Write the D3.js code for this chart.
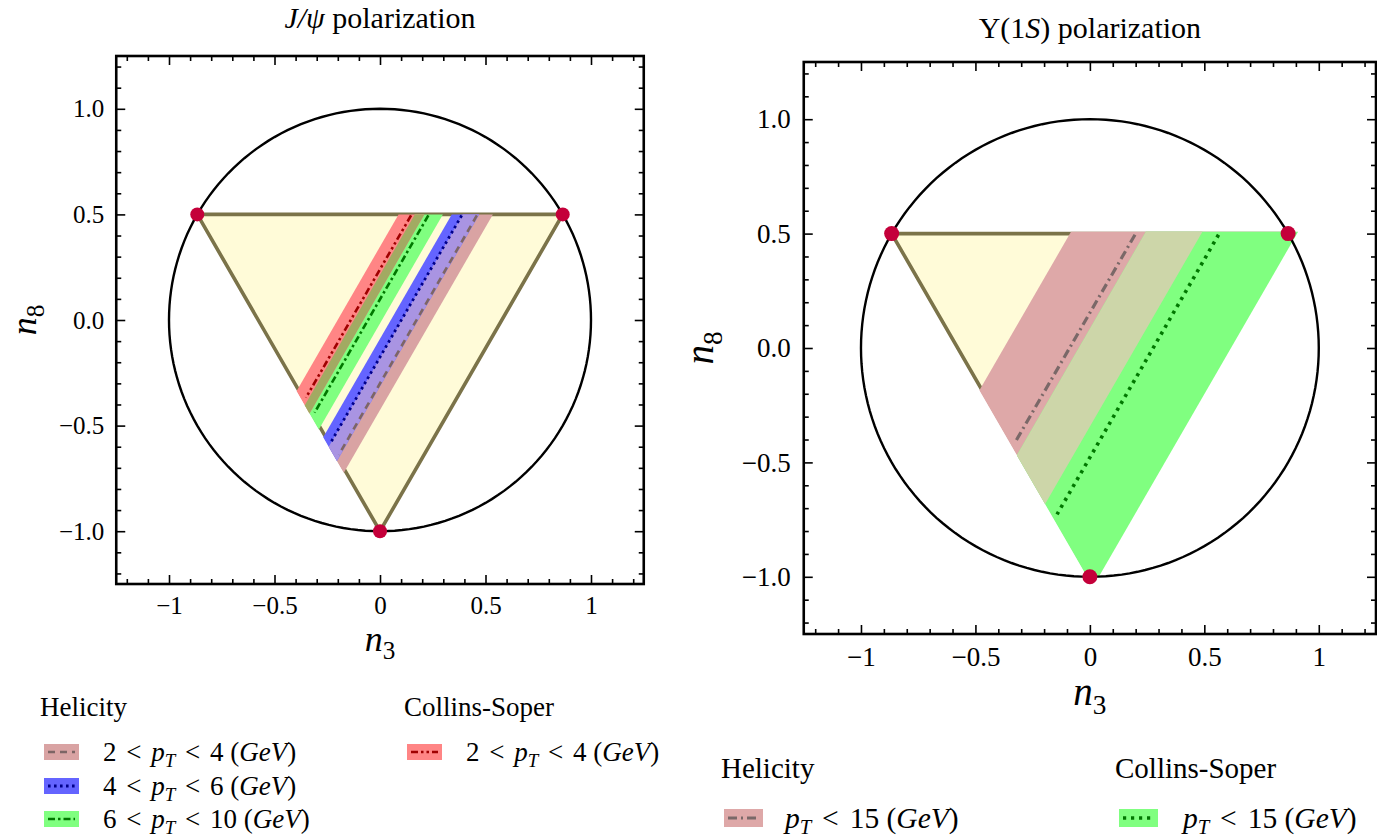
<!DOCTYPE html>
<html><head><meta charset="utf-8">
<script src="https://cdn.jsdelivr.net/npm/d3@7"></script>
<style>
body{margin:0;background:#fff}
svg{display:block}
text{font-family:"Liberation Serif","Times New Roman",serif;fill:#000}
</style>
</head><body><svg id="c" width="1377" height="837"></svg>
<script>
// ---------------- data ----------------
const majorTicks = [-1, -0.5, 0, 0.5, 1];
const xTickLabels = ["−1", "−0.5", "0", "0.5", "1"];
const yTickLabels = ["−1.0", "−0.5", "0.0", "0.5", "1.0"];
const minorTicks = [-1.2,-1.1,-0.9,-0.8,-0.7,-0.6,-0.4,-0.3,-0.2,-0.1,0.1,0.2,0.3,0.4,0.6,0.7,0.8,0.9,1.1,1.2];
// triangle (pure-state) vertices
const vertexN3 = [-0.866, 0.866, 0];
const vertexN8 = [0.5, 0.5, -1];

// J/psi bands: n3 value where the band crosses the top edge n8 = 0.5
const jpsiSeries = ["hel24", "hel46", "hel610", "cs24"];
const jpsiFrame  = ["Helicity", "Helicity", "Helicity", "Collins-Soper"];
const jpsiPtLow  = [2, 4, 6, 2];
const jpsiPtHigh = [4, 6, 10, 4];
const jpsiLow    = [0.392, 0.340, 0.165, 0.088];
const jpsiHigh   = [0.535, 0.470, 0.298, 0.210];
const jpsiLine   = [0.462, 0.390, 0.232, 0.150];

// Upsilon(1S) bands
const upsSeries = ["hel15", "cs15"];
const upsFrame  = ["Helicity", "Collins-Soper"];
const upsPtHigh = [15, 15];
const upsLow    = [-0.087, 0.240];
const upsHigh   = [0.487, 0.905];
const upsLine   = [0.200, 0.565];

// ---------------- styles ----------------
const styles = {
  hel24:  {fill:"#d9a3a3", stroke:"#7d6565", dash:"7,5",            w:2.6},
  hel46:  {fill:"#6464ff", stroke:"#00008b", dash:"2.6,3.4",        w:2.8},
  hel610: {fill:"#80ff80", stroke:"#007800", dash:"7,3,2.5,3",      w:2.6},
  cs24:   {fill:"#ff8585", stroke:"#a00000", dash:"7,3,2.5,3,2.5,3",w:2.6},
  hel15:  {fill:"#dea8a8", stroke:"#7a6868", dash:"9,4,2,4",        w:3.2},
  cs15:   {fill:"#80ff80", stroke:"#007800", dash:"3.2,4.8",        w:3.6}
};
const triFill = "#fffbd8", triEdge = "#7b7349", dotColor = "#c4003a";

const svg = d3.select("#c");
const r3 = Math.sqrt(3);

function clip(pts, a, b, c) { // keep a*x + b*y + c >= 0
  const out = [];
  for (let i = 0; i < pts.length; i++) {
    const p = pts[i], q = pts[(i + 1) % pts.length];
    const fp = a*p[0] + b*p[1] + c, fq = a*q[0] + b*q[1] + c;
    if (fp >= 0) out.push(p);
    if ((fp >= 0) !== (fq >= 0)) {
      const t = fp / (fp - fq);
      out.push([p[0] + t*(q[0]-p[0]), p[1] + t*(q[1]-p[1])]);
    }
  }
  return out;
}
const at = (u, n8) => [u + (n8 - 0.5) / r3, n8];
function band(lo, hi, off, topOff) {
  let pts = [at(lo, 0.5 + topOff), at(hi, 0.5 + topOff), at(hi, -1.4), at(lo, -1.4)];
  pts = clip(pts, 1, 1/r3, 1/r3 + off);   // left edge of triangle
  pts = clip(pts, 0, 1, 1);               // n8 >= -1
  return pts;
}

function mathText(sel, parts, size) {
  const t = sel.attr("font-size", size);
  parts.forEach(p => {
    const s = t.append("tspan").text(p.t);
    if (p.it) s.attr("font-style", "italic");
    if (p.dx) s.attr("dx", p.dx);
    if (p.sub) s.attr("font-size", size * 0.7).attr("dy", size * 0.22);
    if (p.up) s.attr("dy", -size * 0.22);
  });
  return t;
}

function panel(cfg) {
  const x = d3.scaleLinear().domain([-1.25, 1.25]).range([cfg.x0, cfg.x1]);
  const y = d3.scaleLinear().domain([-1.25, 1.25]).range([cfg.y1, cfg.y0]);
  const g = svg.append("g");
  const cid = "clip" + cfg.id;
  svg.append("defs").append("clipPath").attr("id", cid)
    .append("rect").attr("x", cfg.x0).attr("y", cfg.y0)
    .attr("width", cfg.x1 - cfg.x0).attr("height", cfg.y1 - cfg.y0);
  const pg = g.append("g").attr("clip-path", `url(#${cid})`);
  const line = d3.line().x(d => x(d[0])).y(d => y(d[1]));
  const tri = vertexN3.map((v, i) => [v, vertexN8[i]]);

  pg.append("path").attr("d", line(tri) + "Z").attr("fill", triFill)
    .attr("stroke", triEdge).attr("stroke-width", 3.6).attr("stroke-linejoin", "round");

  cfg.series.forEach((s, i) => {
    pg.append("path").attr("d", line(band(cfg.low[i], cfg.high[i], 0.012, cfg.topOff)) + "Z")
      .attr("fill", styles[s].fill);
  });
  cfg.overlaps.forEach(o => {
    const lo = Math.max(cfg.low[o[0]], cfg.low[o[1]]);
    const hi = Math.min(cfg.high[o[0]], cfg.high[o[1]]);
    pg.append("path").attr("d", line(band(lo, hi, 0.012, cfg.topOff)) + "Z").attr("fill", o[2]);
  });
  cfg.series.forEach((s, i) => {
    const u = cfg.mid[i];
    const n8end = Math.max((-0.5 - u * r3) / 2 + 0.012, -1);
    pg.append("path").attr("d", line([at(u, 0.495), at(u, n8end)]))
      .attr("fill", "none").attr("stroke", styles[s].stroke)
      .attr("stroke-width", styles[s].w).attr("stroke-dasharray", styles[s].dash);
  });

  // unit circle
  const circ = d3.range(0, 361, 2).map(a => [Math.cos(a * Math.PI / 180), Math.sin(a * Math.PI / 180)]);
  pg.append("path").attr("d", line(circ)).attr("fill", "none").attr("stroke", "#000").attr("stroke-width", 2.4);
  pg.selectAll("circle.v").data(tri).join("circle").attr("class", "v")
    .attr("cx", d => x(d[0])).attr("cy", d => y(d[1])).attr("r", cfg.dotR).attr("fill", dotColor);

  // axes
  const fmtX = d => xTickLabels[majorTicks.indexOf(d)];
  const fmtY = d => yTickLabels[majorTicks.indexOf(d)];
  const style = sel => {
    sel.select(".domain").remove();
    sel.selectAll("line").attr("stroke-width", 1.6);
    sel.attr("font-family", null).attr("font-size", cfg.tickFs);
  };
  const add = (axis, tr) => g.append("g").attr("transform", tr).call(axis).call(style);
  add(d3.axisBottom(x).tickValues(majorTicks).tickSize(-9).tickPadding(cfg.padX).tickFormat(fmtX), `translate(0,${cfg.y1})`);
  add(d3.axisBottom(x).tickValues(minorTicks).tickSize(-5).tickFormat(""), `translate(0,${cfg.y1})`);
  add(d3.axisTop(x).tickValues(majorTicks).tickSize(-9).tickFormat(""), `translate(0,${cfg.y0})`);
  add(d3.axisTop(x).tickValues(minorTicks).tickSize(-5).tickFormat(""), `translate(0,${cfg.y0})`);
  add(d3.axisLeft(y).tickValues(majorTicks).tickSize(-9).tickPadding(cfg.padY).tickFormat(fmtY), `translate(${cfg.x0},0)`);
  add(d3.axisLeft(y).tickValues(minorTicks).tickSize(-5).tickFormat(""), `translate(${cfg.x0},0)`);
  add(d3.axisRight(y).tickValues(majorTicks).tickSize(-9).tickFormat(""), `translate(${cfg.x1},0)`);
  add(d3.axisRight(y).tickValues(minorTicks).tickSize(-5).tickFormat(""), `translate(${cfg.x1},0)`);
  g.append("rect").attr("x", cfg.x0).attr("y", cfg.y0).attr("width", cfg.x1 - cfg.x0)
    .attr("height", cfg.y1 - cfg.y0).attr("fill", "none").attr("stroke", "#000").attr("stroke-width", 2.6);

  // labels
  const cx = (cfg.x0 + cfg.x1) / 2, cy = (cfg.y0 + cfg.y1) / 2;
  mathText(g.append("text").attr("x", cx).attr("y", cfg.xlabY).attr("text-anchor", "middle"),
    [{t:"n", it:true}, {t:"3", sub:true}], cfg.labFs);
  mathText(g.append("text").attr("transform", `translate(${cfg.ylabX},${cy}) rotate(-90)`).attr("text-anchor", "middle"),
    [{t:"n", it:true}, {t:"8", sub:true}], cfg.labFs);
  mathText(g.append("text").attr("x", cx).attr("y", cfg.titleY).attr("text-anchor", "middle"), cfg.title, cfg.titleFs);
}

panel({id:"L", x0:116.25, x1:643.75, y0:56, y1:584, series:jpsiSeries, low:jpsiLow, high:jpsiHigh, mid:jpsiLine,
  overlaps:[[0, 1, "#a994e2"], [2, 3, "#a2aa62"]], topOff:0, dotR:7, tickFs:25, padX:12, padY:12,
  labFs:36, xlabY:651, ylabX:36, titleY:28, titleFs:30,
  title:[{t:"J/ψ", it:true}, {t:" polarization"}]});
panel({id:"R", x0:803.75, x1:1376, y0:62, y1:634, series:upsSeries, low:upsLow, high:upsHigh, mid:upsLine,
  overlaps:[[0, 1, "#cdd6a9"]], topOff:0.008, dotR:7.5, tickFs:27, padX:13, padY:13,
  labFs:39, xlabY:705, ylabX:713, titleY:38, titleFs:30,
  title:[{t:"Υ(1"}, {t:"S", it:true}, {t:") polarization"}]});

// ---------------- legends ----------------
function ptParts(lo, hi, gap) {
  const p = [];
  if (lo != null) { p.push({t:String(lo)}); p.push({t:" < ", dx:gap}); p.push({t:"p", it:true, dx:gap}); }
  else p.push({t:"p", it:true});
  p.push({t:"T", it:true, sub:true});
  p.push({t:" < ", dx:gap, up:true}); p.push({t:String(hi), dx:gap}); p.push({t:" ("});
  p.push({t:"GeV", it:true}); p.push({t:")"});
  return p;
}
function entry(px, py, pw, ph, tx, s, parts, fs) {
  const st = styles[s];
  svg.append("rect").attr("x", px).attr("y", py - ph / 2).attr("width", pw).attr("height", ph).attr("fill", st.fill);
  svg.append("line").attr("x1", px + 4).attr("x2", px + pw - 4).attr("y1", py).attr("y2", py)
    .attr("stroke", st.stroke).attr("stroke-width", st.w).attr("stroke-dasharray", st.dash);
  mathText(svg.append("text").attr("x", tx).attr("y", py + fs * 0.33), parts, fs);
}
// J/psi legend
svg.append("text").attr("x", 40).attr("y", 716).attr("font-size", 27).text(jpsiFrame[0]);
svg.append("text").attr("x", 404).attr("y", 716).attr("font-size", 27).text(jpsiFrame[3]);
const jRowY = [752, 786, 819];
[0, 1, 2].forEach(i => entry(44, jRowY[i], 35, 16, 103, jpsiSeries[i], ptParts(jpsiPtLow[i], jpsiPtHigh[i], 3), 27));
entry(407, jRowY[0], 35, 16, 466, jpsiSeries[3], ptParts(jpsiPtLow[3], jpsiPtHigh[3], 3), 27);
// Upsilon legend
svg.append("text").attr("x", 721).attr("y", 778).attr("font-size", 29).text(upsFrame[0]);
svg.append("text").attr("x", 1115).attr("y", 778).attr("font-size", 29).text(upsFrame[1]);
entry(724, 818, 39, 18, 785, upsSeries[0], ptParts(null, upsPtHigh[0], 3.5), 29.5);
entry(1119, 818, 39, 18, 1183, upsSeries[1], ptParts(null, upsPtHigh[1], 3.5), 29.5);
</script>
</body></html>
